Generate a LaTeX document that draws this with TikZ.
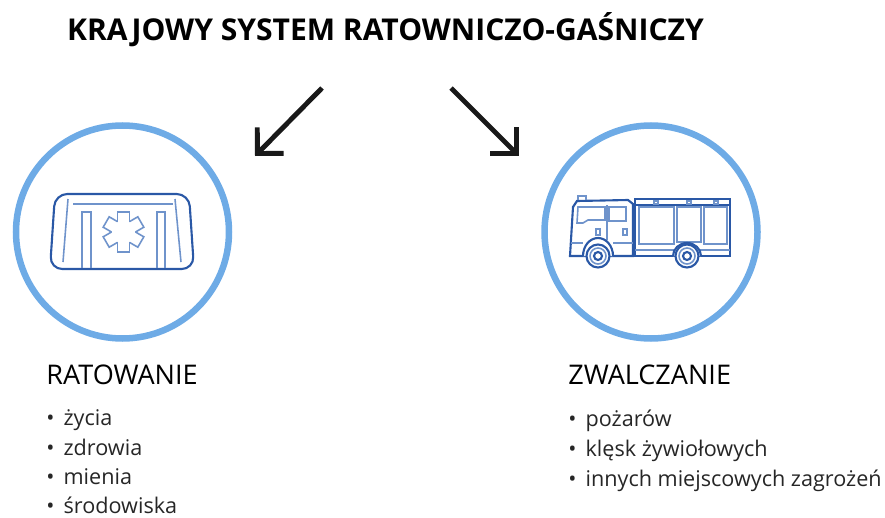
\documentclass[tikz,border=0pt]{standalone}
\usepackage{fontspec}
\setmainfont{Open Sans}
\usetikzlibrary{arrows.meta}
\definecolor{ringblue}{HTML}{6EABE6}
\definecolor{icondark}{HTML}{2A58A6}
\definecolor{iconlight}{HTML}{6F93CB}
\tikzset{
	ring/.style = {draw = ringblue, line width = 3.7pt},
	iconline/.style = {draw = icondark, line width = 1.2pt},
	thinline/.style = {draw = iconlight, line width = .9pt},
	bigarrow/.style = {draw = black!90, line width = 2.8pt, -{Straight Barb[length = 10.5pt, width = 21pt, line width = 2.8pt]}},
	headline/.style = {anchor = west, inner sep = 0, font = \fontsize{15.4}{17}\selectfont},
	listitem/.style = {anchor = base west, inner sep = 0, font = \fontsize{12.3}{14}\selectfont, text = black!85}
}
\newcommand{\bulletgap}[1]{\textbullet\hspace{5.2pt}#1}
\begin{document}
\begin{tikzpicture}[x = .02cm, y = -.02cm]
	\useasboundingbox (0,0) rectangle (885,517);
	% title
	\node (title) [anchor = center, inner sep = 0, font = \fontsize{17.1}{19}\bfseries\selectfont] at (385.5,30) {KRAJOWY SYSTEM RATOWNICZO-GAŚNICZY};
	% arrows
	\coordinate (leftstart) at (322,88);
	\coordinate (lefttip) at (255,156);
	\coordinate (rightstart) at (451,88);
	\coordinate (righttip) at (519,156);
	\draw [bigarrow] (leftstart) -- (lefttip);
	\draw [bigarrow] (rightstart) -- (righttip);
	% circles
	\node (leftring) [ring, circle, minimum size = 213*.02cm, inner sep = 0] at (122.5,232) {};
	\node (rightring) [ring, circle, minimum size = 213*.02cm, inner sep = 0] at (651,232) {};
	% ambulance
	\draw [iconline, rounded corners = 7pt] (55,194) -- (189,194) -- (194,269) -- (50,269) -- cycle;
	\draw [thinline] (68,199) -- (63,262);
	\draw [thinline] (175,199) -- (181,262);
	\draw [thinline] (73,204) -- (173,204);
	\draw [thinline] (82,268) -- (82,212) -- (91,212) -- (91,268);
	\draw [thinline] (157,268) -- (157,212) -- (165,212) -- (165,268);
	\foreach \a in {0,60,...,300}
		\draw [thinline, shift = {(123.5,232)}, rotate = \a] (-6,-10.4) -- (-6,-20) -- (6,-20) -- (6,-10.4);
	% fire engine
	\draw [iconline] (570,256) -- (573,207) -- (577,201) -- (628,200) -- (633,204) -- (633,256) -- cycle;
	\draw [thinline] (578,200) -- (578,196) -- (586,196) -- (586,200);
	\draw [iconline] (635,199) rectangle (730,256);
	\draw [iconline] (635,205) -- (730,205);
	\draw [thinline] (635,250) -- (730,250);
	\draw [thinline] (639,207) rectangle (674,244);
	\draw [thinline] (677,207) rectangle (701,242);
	\draw [thinline] (704,207) rectangle (727,244);
	\foreach \x in {656,689,716}
		\draw [thinline] (\x-2,201) rectangle (\x+2,204);
	\draw [thinline] (578,207) -- (605,207) -- (605,220) -- (588,220) -- (583,223) -- (577,223) -- cycle;
	\draw [thinline] (609,207) rectangle (626,221);
	\draw [thinline] (607,205) -- (607,240);
	\draw [thinline] (596,229) rectangle (600,235);
	\draw [thinline] (623,229) rectangle (627,235);
	\draw [thinline] (571,243) -- (583,243);
	\draw [thinline] (613,243) -- (633,243);
	\draw [iconline, fill = white] (583,256) arc [start angle = 180, end angle = 360, x radius = 15, y radius = 18];
	\draw [iconline, fill = white] (673,256) arc [start angle = 180, end angle = 360, x radius = 14, y radius = 13];
	\foreach \x in {598,687} {
		\draw [iconline, fill = white] (\x,256) circle [radius = 11.5];
		\draw [thinline] (\x,256) circle [radius = 8];
		\draw [iconline] (\x,256) circle [radius = 4];
	}
	% left column
	\node (ratowanie) [headline] at (46,375) {RATOWANIE};
	\node (zycia) [listitem] at (46,425) {\bulletgap{życia}};
	\node (zdrowia) [listitem] at (46,455) {\bulletgap{zdrowia}};
	\node (mienia) [listitem] at (46,484) {\bulletgap{mienia}};
	\node (srodowiska) [listitem] at (46,513) {\bulletgap{środowiska}};
	% right column
	\node (zwalczanie) [headline] at (568,375) {ZWALCZANIE};
	\node (pozarow) [listitem] at (568,426) {\bulletgap{pożarów}};
	\node (klesk) [listitem] at (568,456) {\bulletgap{klęsk żywiołowych}};
	\node (innych) [listitem] at (568,486) {\bulletgap{innych miejscowych zagrożeń}};
\end{tikzpicture}
\end{document}
